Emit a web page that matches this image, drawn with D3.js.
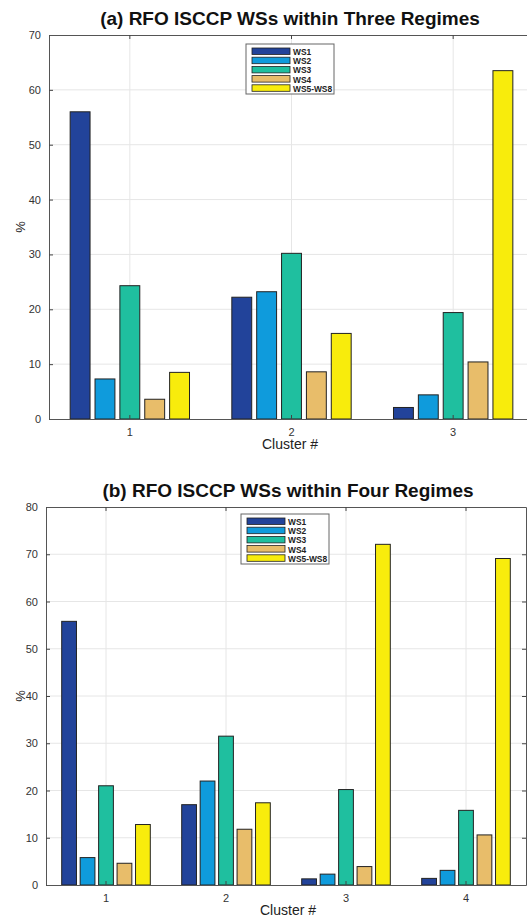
<!DOCTYPE html>
<html>
<head>
<meta charset="utf-8">
<script src="https://cdn.jsdelivr.net/npm/d3@7"></script>
<style>
  html, body { margin: 0; background: #fff; overflow: hidden; }
  svg { display: block; font-family: "Liberation Sans", Arial, sans-serif; }
</style>
</head>
<body>
<div id="chart"></div>
<script>
const width = 527;
const height = 917;

// series
const seriesNames = ["WS1", "WS2", "WS3", "WS4", "WS5-WS8"];
const seriesColors = ["#22439a", "#0f9bdc", "#1fbf9f", "#e8bd6a", "#f8ec0c"];

// panel (a): three regimes
const clustersA = ["1", "2", "3"];
const valuesA = [
  [56.0, 7.3, 24.3, 3.6, 8.5],
  [22.2, 23.2, 30.2, 8.6, 15.6],
  [2.1, 4.4, 19.4, 10.4, 63.5]
];
const yTicksA = [0, 10, 20, 30, 40, 50, 60, 70];

// panel (b): four regimes
const clustersB = ["1", "2", "3", "4"];
const valuesB = [
  [55.8, 5.8, 21.0, 4.6, 12.8],
  [17.0, 22.0, 31.5, 11.8, 17.4],
  [1.3, 2.3, 20.2, 3.9, 72.1],
  [1.4, 3.1, 15.8, 10.6, 69.1]
];
const yTicksB = [0, 10, 20, 30, 40, 50, 60, 70, 80];

const svg = d3.select("#chart").append("svg")
  .attr("width", width)
  .attr("height", height);

function styleAxis(sel) {
  sel.select(".domain").attr("stroke", "#555");
  sel.selectAll(".tick line").attr("stroke", "#444");
  sel.selectAll("text").attr("font-size", 11).attr("fill", "#333");
}

function drawPanel(cfg) {
  const g = svg.append("g");
  const x = d3.scaleBand().domain(cfg.clusters).range([cfg.left, cfg.right]);
  const groupW = x.bandwidth() * 0.769;
  const xs = d3.scaleBand().domain(seriesNames)
    .range([-groupW / 2, groupW / 2]).paddingInner(0.2).paddingOuter(0.1);
  const y = d3.scaleLinear().domain([0, d3.max(cfg.yTicks)]).range([cfg.bottom, cfg.top]);

  // grid
  g.append("g").selectAll("line").data(cfg.yTicks.slice(1, -1)).join("line")
    .attr("x1", cfg.left).attr("x2", cfg.right)
    .attr("y1", d => y(d)).attr("y2", d => y(d))
    .attr("stroke", "#e6e6e6").attr("stroke-width", 1);
  g.append("g").selectAll("line").data(cfg.clusters).join("line")
    .attr("x1", d => x(d) + x.bandwidth() / 2).attr("x2", d => x(d) + x.bandwidth() / 2)
    .attr("y1", cfg.top).attr("y2", cfg.bottom)
    .attr("stroke", "#e6e6e6").attr("stroke-width", 1);

  // bars
  const groups = g.append("g").selectAll("g").data(cfg.values).join("g")
    .attr("transform", (d, i) => `translate(${x(cfg.clusters[i]) + x.bandwidth() / 2},0)`);
  groups.selectAll("rect").data(d => d.map((v, j) => ({ v, j }))).join("rect")
    .attr("x", d => xs(seriesNames[d.j]))
    .attr("width", xs.bandwidth())
    .attr("y", d => y(d.v))
    .attr("height", d => y(0) - y(d.v))
    .attr("fill", d => seriesColors[d.j])
    .attr("stroke", "#222")
    .attr("stroke-width", 1);

  // axes (box with inward ticks)
  g.append("g").attr("transform", `translate(${cfg.left},0)`)
    .call(d3.axisLeft(y).tickValues(cfg.yTicks).tickSizeInner(-4).tickSizeOuter(0).tickPadding(8))
    .call(styleAxis);
  g.append("g").attr("transform", `translate(${cfg.right},0)`)
    .call(d3.axisRight(y).tickValues(cfg.yTicks).tickSizeInner(-4).tickSizeOuter(0).tickFormat(""))
    .call(styleAxis);
  g.append("g").attr("transform", `translate(0,${cfg.bottom})`)
    .call(d3.axisBottom(x).tickSizeInner(-4).tickSizeOuter(0).tickPadding(9))
    .call(styleAxis);
  g.append("g").attr("transform", `translate(0,${cfg.top})`)
    .call(d3.axisTop(x).tickSizeInner(-4).tickSizeOuter(0).tickFormat(""))
    .call(styleAxis);

  // titles
  g.append("text").attr("x", cfg.titleX).attr("y", cfg.titleY)
    .attr("text-anchor", "middle").attr("font-size", 19).attr("font-weight", "bold")
    .attr("fill", "#111").text(cfg.title);
  g.append("text").attr("x", cfg.titleX).attr("y", cfg.bottom + 30)
    .attr("text-anchor", "middle").attr("font-size", 14).attr("fill", "#222")
    .text("Cluster #");
  g.append("text")
    .attr("transform", `translate(25,${(cfg.top + cfg.bottom) / 2}) rotate(-90)`)
    .attr("text-anchor", "middle").attr("font-size", 13).attr("fill", "#222")
    .text("%");

  // legend
  const lg = g.append("g").attr("transform", `translate(${cfg.legX},${cfg.legY})`);
  lg.append("rect").attr("width", 88).attr("height", 50)
    .attr("fill", "#fff").attr("stroke", "#666").attr("stroke-width", 1);
  const rows = lg.selectAll("g").data(seriesNames).join("g")
    .attr("transform", (d, i) => `translate(6,${4 + i * 9.2})`);
  rows.append("rect").attr("width", 38).attr("height", 6.5)
    .attr("fill", (d, i) => seriesColors[i]).attr("stroke", "#222").attr("stroke-width", 0.8);
  rows.append("text").attr("x", 41).attr("y", 7).attr("font-size", 8.4)
    .attr("font-weight", "bold").attr("fill", "#222").text(d => d);
}

drawPanel({
  clusters: clustersA, values: valuesA, yTicks: yTicksA,
  left: 49, right: 534, top: 35, bottom: 419,
  title: "(a) RFO ISCCP WSs within Three Regimes", titleX: 290, titleY: 25,
  legX: 246, legY: 44
});

drawPanel({
  clusters: clustersB, values: valuesB, yTicks: yTicksB,
  left: 46, right: 526, top: 507, bottom: 885,
  title: "(b) RFO ISCCP WSs within Four Regimes", titleX: 288, titleY: 497,
  legX: 241, legY: 514
});
</script>
</body>
</html>
